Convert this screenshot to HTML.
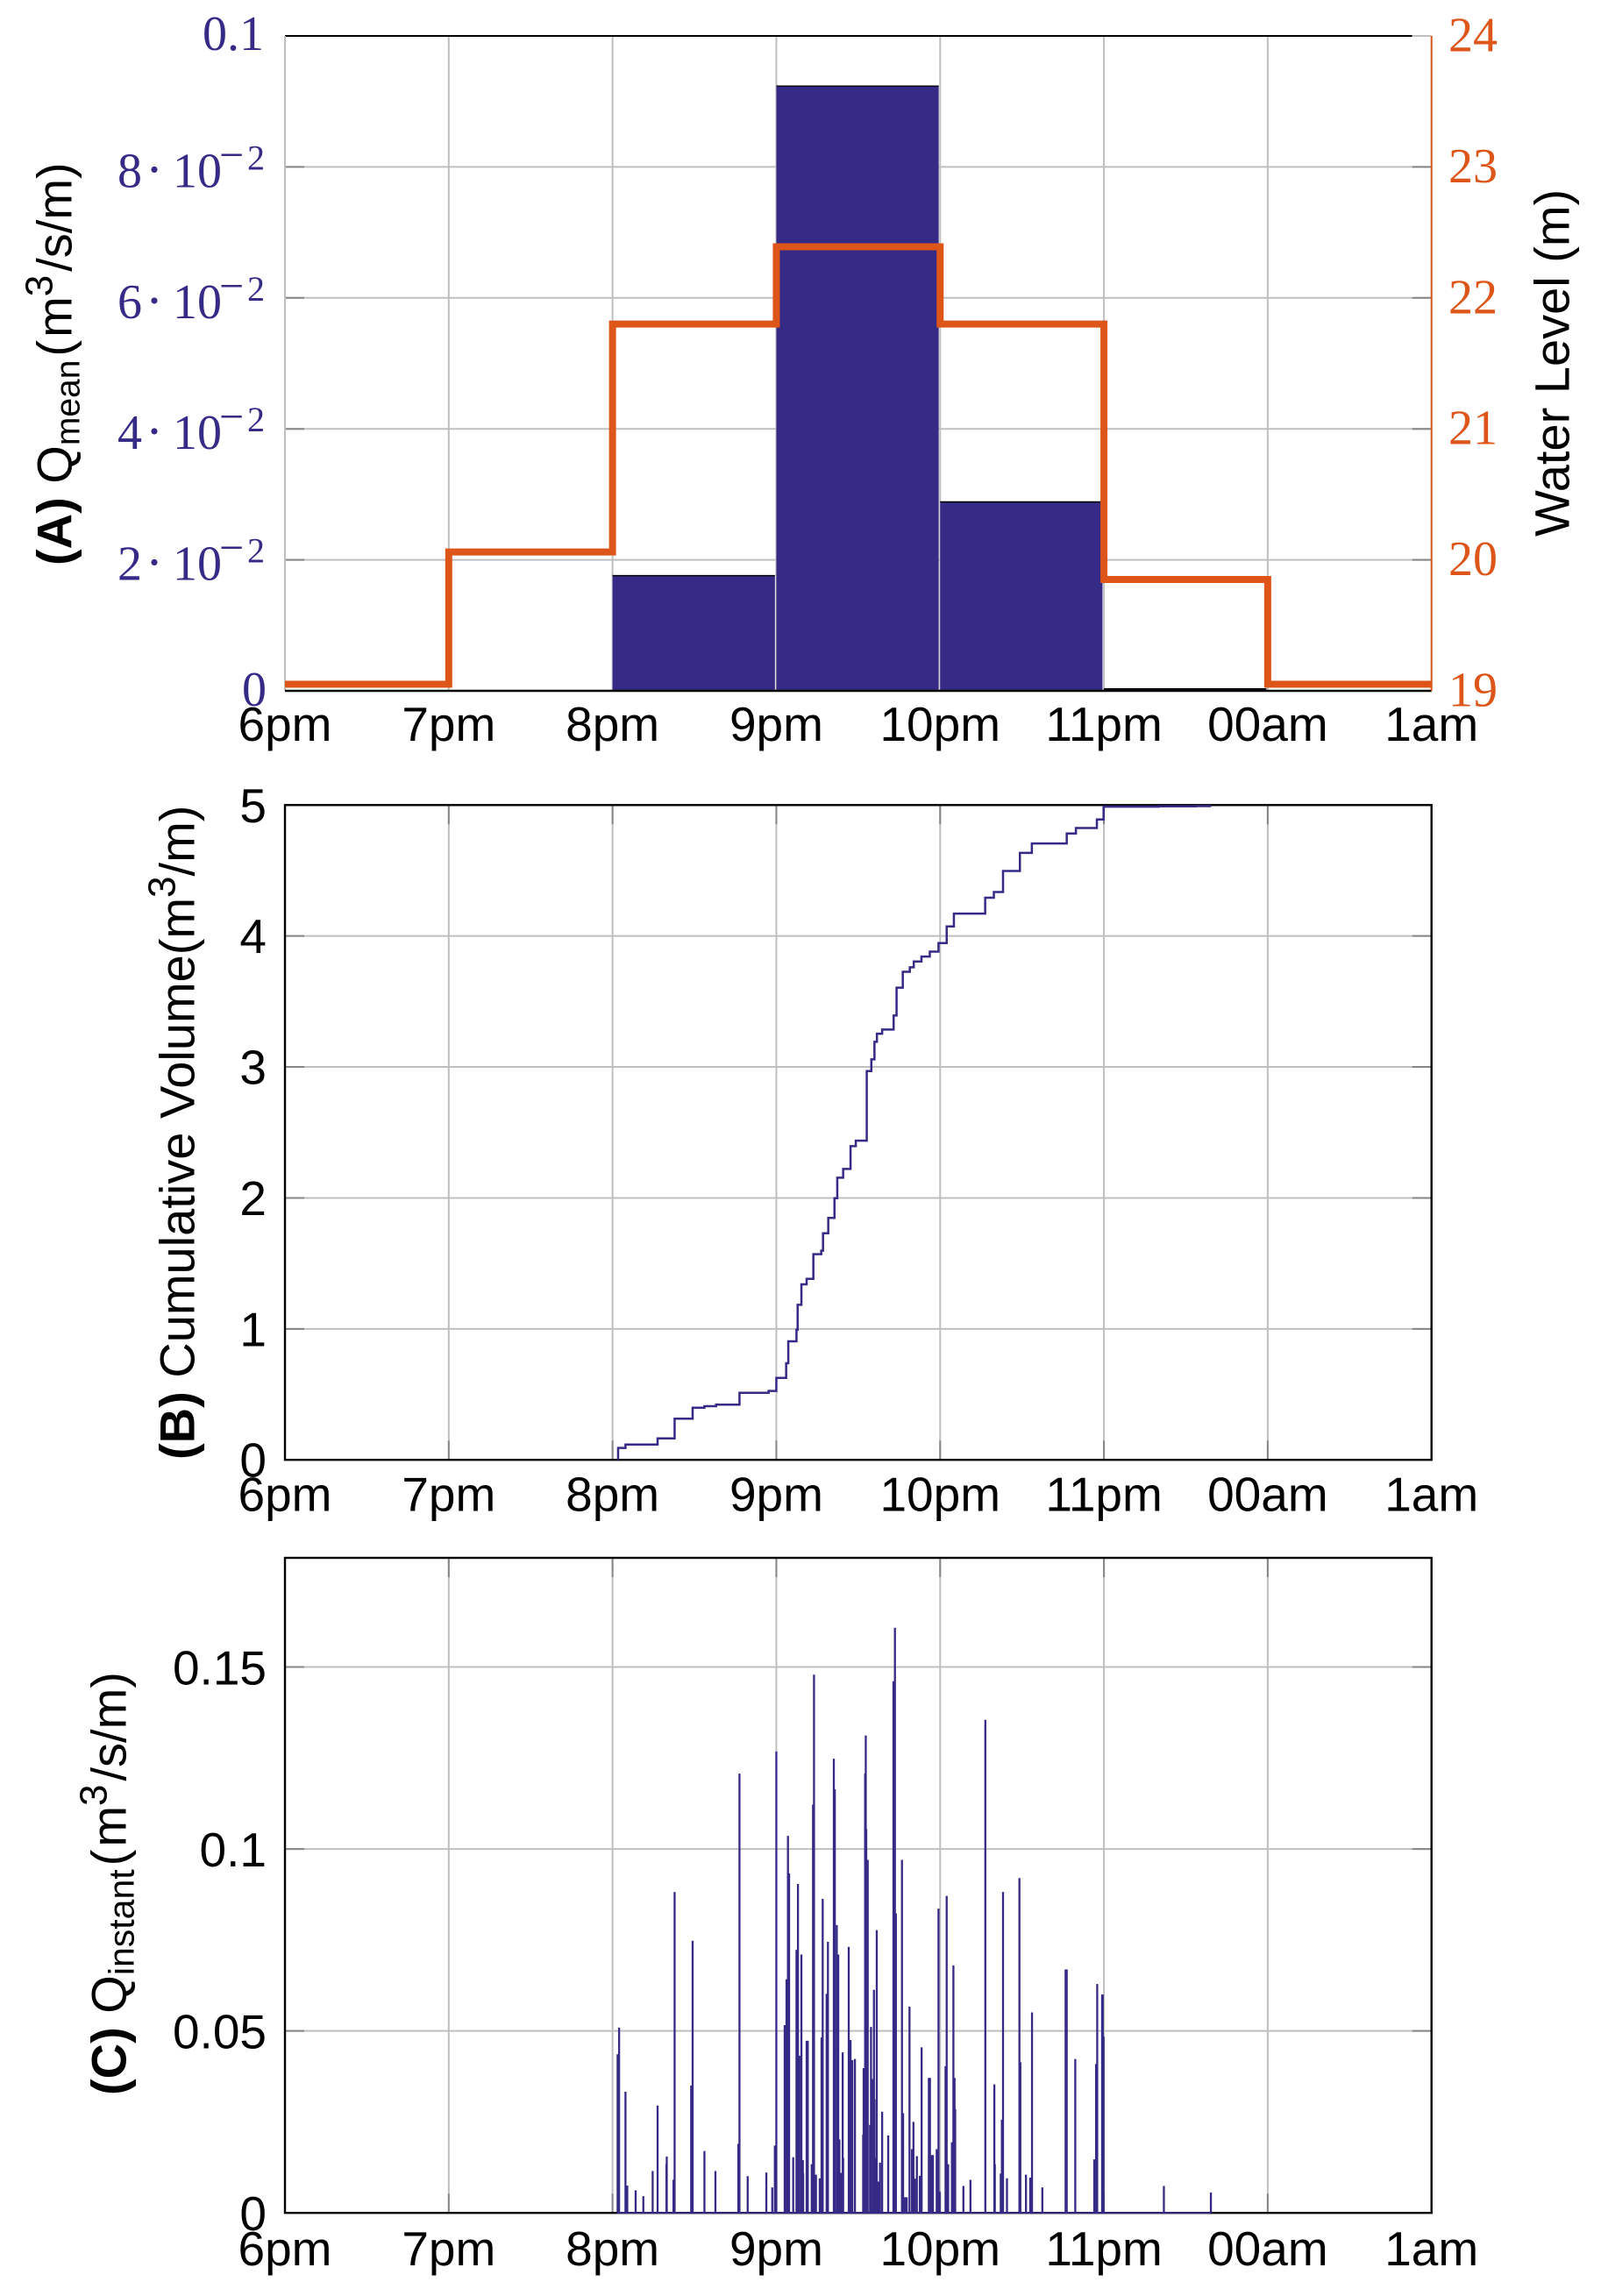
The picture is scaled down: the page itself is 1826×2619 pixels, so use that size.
<!DOCTYPE html>
<html lang="en">
<head>
<meta charset="utf-8">
<title>Discharge and water level time series</title>
<style>
html,body{margin:0;padding:0;background:#fff;}
svg{display:block;}
text{font-family:"Liberation Sans",sans-serif;fill:#000;}
</style>
</head>
<body>
<svg id="chart" xmlns="http://www.w3.org/2000/svg" width="1826" height="2619" viewBox="0 0 1826 2619">
  <rect x="0" y="0" width="1826" height="2619" fill="#fff"/>
  <g id="panelA"></g>
  <g id="panelB"></g>
  <g id="panelC"></g>
  <text transform="translate(81.5,645) rotate(-90)" font-size="56"><tspan font-weight="bold">(A)</tspan> Q<tspan font-size="39" dy="9">mean</tspan><tspan dy="-9" dx="4">(</tspan><tspan dx="3">m</tspan><tspan font-size="44" dy="-22">3</tspan><tspan dy="22" dx="4">/s/m)</tspan></text>
  <text transform="translate(1789.6,612) rotate(-90)" font-size="56">Water Level (m)</text>
  <text transform="translate(221.7,1665) rotate(-90)" font-size="56"><tspan font-weight="bold">(B)</tspan> Cumulative Volume(m<tspan font-size="44" dy="-22">3</tspan><tspan dy="22">/m)</tspan></text>
  <text transform="translate(143.3,2390) rotate(-90)" font-size="56"><tspan font-weight="bold">(C)</tspan> Q<tspan font-size="41" dy="9">instant</tspan><tspan dy="-9" dx="4">(</tspan><tspan dx="3">m</tspan><tspan font-size="44" dy="-22">3</tspan><tspan dy="22" dx="4">/s/m)</tspan></text>
</svg>
<script>
// ---- shared categories ----
var hourLabels = ["6pm","7pm","8pm","9pm","10pm","11pm","00am","1am"];

// ---- panel A data ----
var meanTicks = [0, 0.02, 0.04, 0.06, 0.08, 0.1];
var meanTickMantissa = ["0", "2", "4", "6", "8", "0.1"];
var levelTicks = [19, 20, 21, 22, 23, 24];
var meanQ = [0, 0, 0.01759, 0.09234, 0.02885, 0.0003, 0];
var waterLevel = [19.05, 20.06, 21.80, 22.39, 21.80, 19.85, 19.05];

// ---- panel B data (hours after 6pm, cumulative volume) ----
var volumeTicks = [0, 1, 2, 3, 4, 5];
var volumeHours = [2.034,2.034,2.079,2.275,2.379,2.489,2.561,2.632,2.775,2.953,3.0,3.06,3.073,3.123,3.13,3.153,3.185,3.226,3.274,3.285,3.317,3.355,3.372,3.408,3.453,3.485,3.552,3.58,3.599,3.614,3.646,3.716,3.734,3.772,3.815,3.839,3.886,3.937,3.99,4.04,4.084,4.275,4.328,4.384,4.487,4.56,4.773,4.829,4.957,4.998,5.336,5.561,5.655];
var volumeValues = [0,0.091,0.117,0.164,0.314,0.398,0.41,0.421,0.512,0.526,0.626,0.738,0.905,0.994,1.184,1.34,1.382,1.57,1.597,1.73,1.847,1.998,2.154,2.221,2.395,2.437,2.969,3.058,3.192,3.254,3.286,3.393,3.605,3.727,3.761,3.805,3.843,3.881,3.946,4.073,4.171,4.292,4.336,4.497,4.635,4.707,4.783,4.825,4.89,4.988,4.99,4.992,4.992];

// ---- panel C data (hours after 6pm, instantaneous discharge) ----
var instantTicks = [0, 0.05, 0.1, 0.15];
var instantTickLabels = ["0", "0.05", "0.1", "0.15"];
var instantHours = [2.031,2.04,2.079,2.09,2.141,2.188,2.245,2.275,2.329,2.331,2.372,2.379,2.48,2.489,2.561,2.628,2.768,2.775,2.825,2.939,2.975,2.991,3.0,3.051,3.062,3.071,3.078,3.103,3.123,3.132,3.141,3.153,3.162,3.164,3.185,3.192,3.216,3.224,3.23,3.242,3.265,3.276,3.283,3.307,3.315,3.351,3.357,3.369,3.378,3.385,3.396,3.405,3.408,3.442,3.453,3.464,3.48,3.53,3.533,3.542,3.546,3.549,3.558,3.572,3.578,3.585,3.596,3.599,3.605,3.613,3.624,3.633,3.646,3.683,3.715,3.724,3.73,3.767,3.774,3.785,3.796,3.813,3.828,3.837,3.846,3.858,3.876,3.887,3.931,3.938,3.947,3.956,3.979,3.99,3.997,4.033,4.04,4.049,4.072,4.081,4.088,4.092,4.142,4.185,4.276,4.331,4.334,4.37,4.377,4.384,4.408,4.484,4.49,4.524,4.55,4.561,4.624,4.766,4.773,4.825,4.941,4.952,4.959,4.989,4.993,4.998,5.366,5.653];
var instantValues = [0.0436,0.0509,0.0333,0.0075,0.0062,0.0046,0.0115,0.0295,0.0134,0.0155,0.0091,0.0882,0.035,0.0748,0.017,0.0115,0.019,0.1207,0.0101,0.0111,0.007,0.0185,0.1268,0.0516,0.0642,0.1036,0.0933,0.0153,0.0723,0.0904,0.0432,0.071,0.0145,0.0108,0.0473,0.0473,0.0134,0.1122,0.1479,0.0105,0.0095,0.0482,0.0863,0.0602,0.0745,0.1248,0.1164,0.0791,0.071,0.0202,0.011,0.0441,0.0151,0.0731,0.0475,0.042,0.0423,0.0215,0.0398,0.1207,0.1312,0.1054,0.097,0.0242,0.0511,0.0368,0.0613,0.0312,0.0151,0.0777,0.0086,0.0138,0.0278,0.0213,0.1461,0.1608,0.0823,0.097,0.0274,0.0043,0.0043,0.0567,0.0175,0.025,0.0094,0.0156,0.0102,0.0455,0.0371,0.0371,0.0159,0.0159,0.0175,0.0836,0.0059,0.0403,0.0871,0.0134,0.0194,0.068,0.0371,0.0285,0.0074,0.0091,0.1355,0.0353,0.0134,0.0108,0.0256,0.0882,0.0095,0.092,0.0414,0.0105,0.0097,0.0551,0.007,0.0669,0.0669,0.0423,0.0147,0.0409,0.0629,0.06,0.06,0.0484,0.0074,0.0056];

// ---- drawing helpers ----
var NS = "http://www.w3.org/2000/svg";
var NAVY = "#352a86", ORANGE = "#dd5518", GRID = "#bfbfbf", TICK = "#868686";
var LEFT = 325, RIGHT = 1632.7, HOURS = 7;

function mk(tag, attrs, parent) {
  var el = document.createElementNS(NS, tag);
  for (var k in attrs) { el.setAttribute(k, attrs[k]); }
  parent.appendChild(el);
  return el;
}
function xAt(hour) { return LEFT + hour * (RIGHT - LEFT) / HOURS; }
function scale(d0, d1, top, bottom) {
  return function (v) { return bottom - (v - d0) / (d1 - d0) * (bottom - top); };
}
function line(parent, x1, y1, x2, y2, color, w, name) {
  var el = mk("line", {x1:x1, y1:y1, x2:x2, y2:y2, stroke:color, "stroke-width":w}, parent);
  
  
  return el;
}
function label(parent, x, y, str, size, anchor, color, family, name) {
  var el = mk("text", {x:x, y:y, "font-size":size, "text-anchor":anchor}, parent);
  el.style.fill = color;
  el.style.fontFamily = family;
  el.textContent = str;
  
  
  return el;
}
var SANS = '"Liberation Sans",sans-serif', SERIF = '"Liberation Serif",serif';

function drawVerticalGrid(g, top, bottom, showTicks) {
  hourLabels.forEach(function (lab, i) {
    if (i > 0 && i < HOURS) {
      line(g, xAt(i), top, xAt(i), bottom, GRID, 2, 'x-gridline');
      if (showTicks) {
        line(g, xAt(i), bottom - 22, xAt(i), bottom, TICK, 2, 'x-tick-bottom');
        line(g, xAt(i), top, xAt(i), top + 22, TICK, 2, 'x-tick-top');
      }
    }
  });
}
function drawHourLabels(g, baseline) {
  hourLabels.forEach(function (lab, i) {
    label(g, xAt(i), baseline, lab, 55, "middle", "#000", SANS, 'x-tick-label');
  });
}
function drawHorizontalGrid(g, ticks, y) {
  ticks.forEach(function (t) {
    var py = y(t);
    line(g, LEFT, py, RIGHT, py, GRID, 2, 'y-gridline');
    line(g, LEFT, py, LEFT + 22, py, TICK, 2, 'y-tick-left');
    line(g, RIGHT - 22, py, RIGHT, py, TICK, 2, 'y-tick-right');
  });
}
function drawFrame(g, top, bottom) {
  var el = mk("rect", {x:LEFT, y:top, width:RIGHT - LEFT, height:bottom - top, fill:"none", stroke:"#000", "stroke-width":2.4}, g);
  
  
}

// ---- panel A ----
(function () {
  var g = document.getElementById("panelA");
  var top = 41, bottom = 788;
  var yMean = scale(0, 0.1, top, bottom);
  var yLevel = scale(19, 24, top, bottom);
  drawVerticalGrid(g, top, bottom, false);
  drawHorizontalGrid(g, meanTicks.slice(1, 5), yMean);

  meanQ.forEach(function (v, i) {
    if (v <= 0) { return; }
    var bar = mk("rect", {x:xAt(i), y:yMean(v), width:xAt(i + 1) - xAt(i) - 1.6, height:bottom - yMean(v), fill:NAVY}, g);
    
    
    line(g, xAt(i), yMean(v), xAt(i + 1) - 1.6, yMean(v), "#000", 1.4, 'mean-discharge-bar-top');
  });

  line(g, LEFT, top, RIGHT - 22, top, "#000", 2, 'top-axis-line');
  line(g, RIGHT - 22, top, RIGHT, top, GRID, 2, 'top-axis-line-end');
  line(g, LEFT, top, LEFT, bottom, GRID, 2, 'left-axis-line');
  line(g, LEFT, bottom, RIGHT, bottom, "#000", 2.4, 'bottom-axis-line');
  line(g, RIGHT, top, RIGHT, bottom, ORANGE, 2, 'right-axis-line');

  var d = "";
  waterLevel.forEach(function (v, i) {
    d += (i === 0 ? "M" : "L") + xAt(i) + " " + yLevel(v) + "L" + xAt(i + 1) + " " + yLevel(v);
  });
  var path = mk("path", {d:d, fill:"none", stroke:ORANGE, "stroke-width":8, "stroke-linejoin":"miter"}, g);
  
  

  meanTicks.forEach(function (t, i) {
    var py = yMean(t);
    var m = meanTickMantissa[i];
    if (i === 0) {
      label(g, 304, py + 17, m, 56, "end", NAVY, SERIF, 'mean-tick-label');
    } else if (i === meanTicks.length - 1) {
      label(g, 301, py + 16, m, 56, "end", NAVY, SERIF, 'mean-tick-label');
    } else {
      label(g, 134, py + 23, m, 56, "start", NAVY, SERIF, 'mean-tick-label-mantissa');
      label(g, 166, py + 23, "\u00B7", 60, "start", NAVY, SERIF, 'mean-tick-label-dot');
      label(g, 197, py + 23, "10", 56, "start", NAVY, SERIF, 'mean-tick-label-base');
      label(g, 250, py + 3, "\u2212", 50, "start", NAVY, SERIF, 'mean-tick-label-exponent-sign');
      label(g, 282, py + 3, "2", 40, "start", NAVY, SERIF, 'mean-tick-label-exponent');
    }
  });
  levelTicks.forEach(function (t) {
    label(g, 1652, yLevel(t) + 17.5, String(t), 56, "start", ORANGE, SERIF, 'water-level-tick-label');
  });
  drawHourLabels(g, 845);
})();

// ---- panel B ----
(function () {
  var g = document.getElementById("panelB");
  var top = 918.3, bottom = 1665.2;
  var y = scale(0, 5, top, bottom);
  drawVerticalGrid(g, top, bottom, true);
  drawHorizontalGrid(g, volumeTicks.slice(1, 5), y);
  line(g, LEFT, top, LEFT + 22, top, TICK, 2, 'y-tick-left');
  var d = "";
  volumeHours.forEach(function (h, i) {
    if (i === 0) {
      d += "M" + xAt(h) + " " + y(volumeValues[i]);
    } else {
      d += "L" + xAt(h) + " " + y(volumeValues[i - 1]) + "L" + xAt(h) + " " + y(volumeValues[i]);
    }
  });
  drawFrame(g, top, bottom);
  var path = mk("path", {d:d, fill:"none", stroke:NAVY, "stroke-width":2.5}, g);
  
  
  volumeTicks.forEach(function (t) {
    label(g, 304, y(t) + 19.5, String(t), 55, "end", "#000", SANS, 'volume-tick-label');
  });
  drawHourLabels(g, 1723.5);
})();

// ---- panel C ----
(function () {
  var g = document.getElementById("panelC");
  var top = 1777, bottom = 2524.2;
  var y = scale(0, 0.18, top, bottom);
  drawVerticalGrid(g, top, bottom, true);
  drawHorizontalGrid(g, instantTicks.slice(1), y);
  drawFrame(g, top, bottom);
  instantHours.forEach(function (h, i) {
    line(g, xAt(h), bottom, xAt(h), y(instantValues[i]), NAVY, 2.3, 'instant-discharge-stem');
  });
  line(g, xAt(instantHours[0]), bottom, xAt(instantHours[instantHours.length - 1]), bottom, NAVY, 1.8, 'instant-discharge-baseline');
  instantTicks.forEach(function (t, i) {
    label(g, 304, y(t) + 20, instantTickLabels[i], 55, "end", "#000", SANS, 'instant-tick-label');
  });
  drawHourLabels(g, 2584);
})();
</script>
</body>
</html>
